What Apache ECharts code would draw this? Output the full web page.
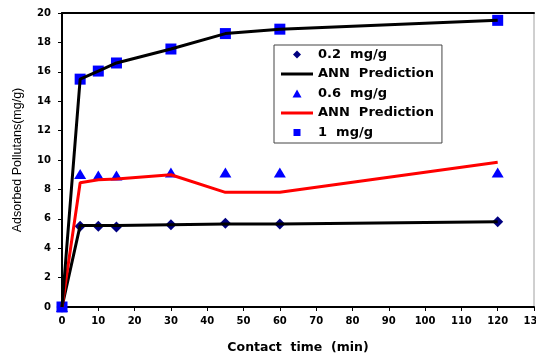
<!DOCTYPE html>
<html>
<head>
<meta charset="utf-8">
<script src="https://cdn.jsdelivr.net/npm/echarts@6/dist/echarts.min.js"></script>
<style>
  html, body { margin: 0; padding: 0; background: #fff; }
  #chart { width: 536px; height: 358px; }
</style>
</head>
<body>
<div id="chart"></div>
<script>
// contact time (min)
var timeMin = [0, 5, 10, 15, 30, 45, 60, 120];
// measured adsorbed pollutants (mg/g)
var exp02 = [0, 5.5, 5.5, 5.45, 5.6, 5.7, 5.65, 5.8];
var exp06 = [0, 9.05, 8.95, 8.95, 9.15, 9.15, 9.15, 9.15];
var exp1 = [0, 15.5, 16.05, 16.6, 17.55, 18.6, 18.9, 19.5];
// ANN predictions
var ann02 = [0, 5.55, 5.55, 5.55, 5.6, 5.65, 5.65, 5.8];
var ann06 = [0, 8.45, 8.65, 8.7, 9.0, 7.8, 7.8, 9.85];
var ann1 = [0, 15.5, 16.05, 16.6, 17.55, 18.6, 18.9, 19.5];

var yTicks = { min: 0, max: 20, interval: 2 };
var xTicks = { min: 0, max: 130, interval: 10 };

function pairs(ys) {
    var out = [];
    for (var i = 0; i < timeMin.length; i++) {
        out.push([timeMin[i], ys[i]]);
    }
    return out;
}

// legend icons keep a 32x9 box so the shapes are not stretched
var iconBox = 'path://M0,0M32,9';
var icons = {
    diamond: iconBox + 'M16,0.5L20,4.5L16,8.5L12,4.5Z',
    triangle: iconBox + 'M16,0.5L20.5,8.5L11.5,8.5Z',
    square: iconBox + 'M12.5,1H19.5V8H12.5Z',
    line: iconBox + 'M0,3H32V6H0Z'
};

var boldFont = 'DejaVu Sans';
var myChart = echarts.init(document.getElementById('chart'));

var option = {
    animation: false,
    grid: {
        left: 62, top: 13, right: 2, bottom: 51,
        outerBoundsMode: 'none',
        show: true, borderColor: '#a0a0a0', borderWidth: 1
    },
    legend: {
        orient: 'vertical',
        left: 274, top: 45,
        padding: [3, 8, 4, 7],
        itemWidth: 32, itemHeight: 9, itemGap: 6.5,
        borderColor: '#444', borderWidth: 1,
        backgroundColor: '#fff',
        textStyle: { fontFamily: boldFont, fontWeight: 'bold', fontSize: 13, color: '#000' },
        formatter: function (name) { return name.trim(); },
        data: [
            { name: '0.2  mg/g', icon: icons.diamond },
            { name: 'ANN  Prediction', icon: icons.line },
            { name: '0.6  mg/g', icon: icons.triangle },
            { name: 'ANN  Prediction ', icon: icons.line },
            { name: '1  mg/g', icon: icons.square }
        ]
    },
    xAxis: [{
        type: 'value',
        min: xTicks.min, max: xTicks.max, interval: xTicks.interval,
        name: 'Contact  time  (min)',
        nameLocation: 'middle',
        nameGap: 34,
        nameTextStyle: { fontFamily: boldFont, fontWeight: 'bold', fontSize: 12.5, color: '#000' },
        axisLine: { show: true, lineStyle: { color: '#000', width: 2 } },
        axisTick: { show: true, length: 4, lineStyle: { color: '#000' } },
        axisLabel: { margin: 9, fontFamily: boldFont, fontWeight: 'bold', fontSize: 10, color: '#000' },
        splitLine: { show: false }
    }, {
        type: 'value',
        position: 'top',
        min: xTicks.min, max: xTicks.max,
        axisLine: { show: true, onZero: false, lineStyle: { color: '#000', width: 2 } },
        axisTick: { show: false },
        axisLabel: { show: false },
        splitLine: { show: false }
    }],
    yAxis: {
        type: 'value',
        min: yTicks.min, max: yTicks.max, interval: yTicks.interval,
        name: 'Adsorbed Pollutans(mg/g)',
        nameLocation: 'middle',
        nameGap: 38,
        nameTextStyle: { fontFamily: 'Liberation Sans', fontSize: 12.5, color: '#000' },
        axisLine: { show: true, lineStyle: { color: '#000', width: 2 } },
        axisTick: { show: true, length: 4, lineStyle: { color: '#000' } },
        axisLabel: { margin: 11, fontFamily: boldFont, fontWeight: 'bold', fontSize: 10, color: '#000' },
        splitLine: { show: false }
    },
    series: [
        {
            name: 'ANN  Prediction', type: 'line', symbol: 'none',
            color: '#000', lineStyle: { color: '#000', width: 3 },
            data: pairs(ann02)
        },
        {
            name: 'ANN  Prediction ', type: 'line', symbol: 'none',
            color: '#ff0000', lineStyle: { color: '#ff0000', width: 3 },
            data: pairs(ann06)
        },
        {
            name: 'ANN 1', type: 'line', symbol: 'none',
            color: '#000', lineStyle: { color: '#000', width: 3 },
            data: pairs(ann1)
        },
        {
            name: '0.2  mg/g', type: 'scatter', symbol: 'diamond', symbolSize: 11,
            color: '#000080', itemStyle: { color: '#000080', opacity: 1 },
            data: pairs(exp02)
        },
        {
            name: '0.6  mg/g', type: 'scatter', symbol: 'triangle', symbolSize: [12, 10],
            color: '#0000ff', itemStyle: { color: '#0000ff', opacity: 1 },
            data: pairs(exp06)
        },
        {
            name: '1  mg/g', type: 'scatter', symbol: 'rect', symbolSize: 11,
            color: '#0000ff', itemStyle: { color: '#0000ff', opacity: 1 },
            data: pairs(exp1)
        }
    ]
};
myChart.setOption(option);
</script>
</body>
</html>
